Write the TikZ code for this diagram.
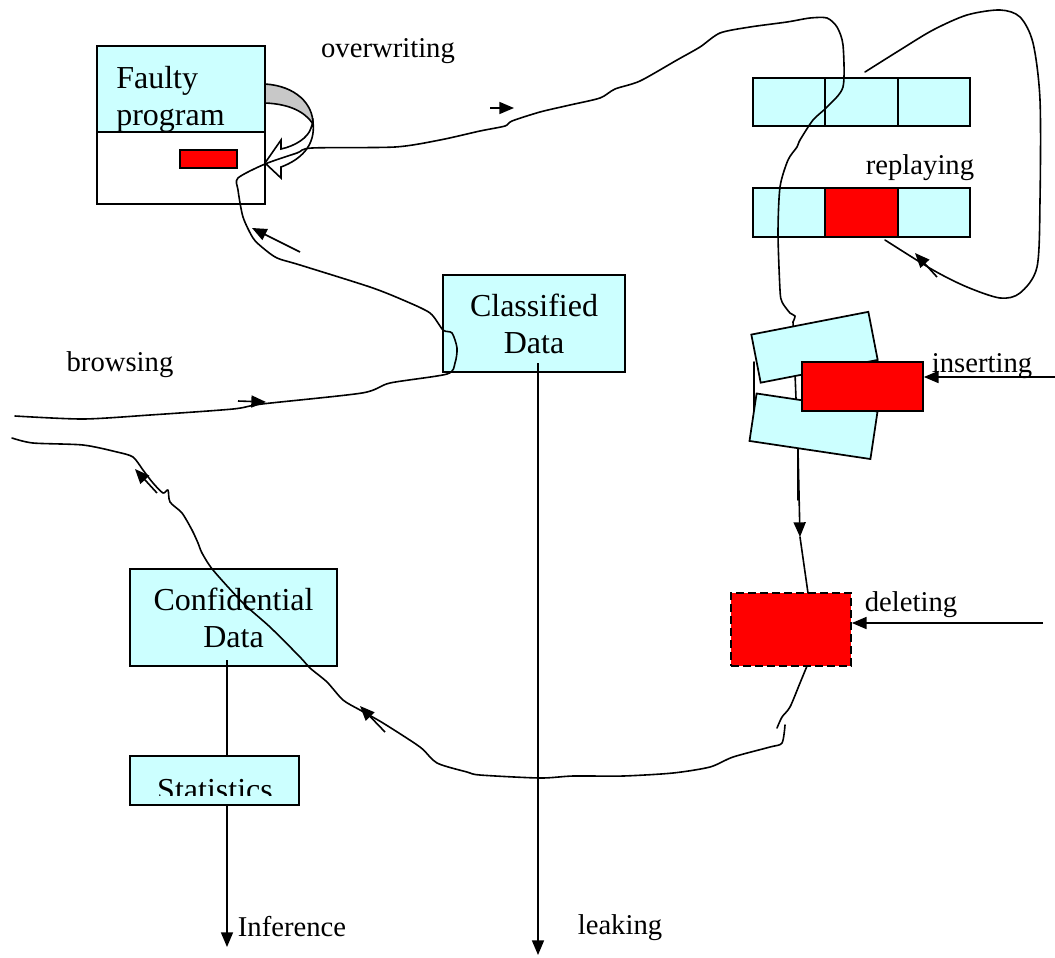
\documentclass[tikz,border=0pt]{standalone}
\usepackage{fontspec}
\setmainfont{Liberation Serif}
\usetikzlibrary{arrows.meta}
\usetikzlibrary{positioning}

\definecolor{lightcyan}{HTML}{CCFFFF}
\definecolor{pureRed}{HTML}{FF0000}
\definecolor{bandgray}{HTML}{C8C8C8}

\tikzset{
	box/.style={draw, fill=lightcyan, inner sep=0pt, line width=1.3pt},
	redbox/.style={draw, fill=pureRed, inner sep=0pt, line width=1.3pt},
	lbl/.style={font=\fontsize{21.5}{24}\selectfont, inner sep=0pt},
	big/.style={font=\fontsize{24}{27.6}\selectfont, align=center},
	wavy/.style={line width=1.2pt, line join=round, line cap=round},
	arr/.style={line width=1.2pt, -{Triangle[length=11pt,width=9pt]}}
}

\begin{document}
\begin{tikzpicture}[x=0.75pt, y=-0.75pt]
	\useasboundingbox (0,0) rectangle (1055,957);

	% faulty program
	\node[box, minimum width=126pt, minimum height=64.5pt] (fptop) at (181,89) {};
	\node[draw, fill=white, line width=1.3pt, minimum width=126pt, minimum height=54pt] (fpbot) at (181,168) {};
	\node[redbox, minimum width=42.75pt, minimum height=13.5pt] (fpmark) at (208.5,159) {};
	\node[big, align=left, anchor=west, inner sep=0pt] (fplabel) at (116,99) {Faulty\\program};

	% curved arrow back into the program
	\filldraw[fill=bandgray, line width=1.2pt] (265,84) .. controls (296,86) and (313,104) .. (313,124)
		.. controls (305,112) and (290,104) .. (265,103) -- cycle;
	\filldraw[fill=white, line width=1.2pt] (313,122) .. controls (316,146) and (300,160) .. (281,167)
		-- (281,178) -- (265,163) -- (281,140) -- (281,149)
		.. controls (295,146) and (308,138) .. (311,128) -- cycle;

	% data boxes
	\node[box, big, minimum width=136.5pt, minimum height=72.75pt] (classified) at (534,323.5) {Classified\\Data};
	\node[box, big, minimum width=155.25pt, minimum height=72.75pt] (confidential) at (233.5,617.5) {Confidential\\Data};
	\node[box, minimum width=126.75pt, minimum height=36.75pt] (stats) at (214.5,780.5) {};
	\begin{scope}
		\clip (130,756) rectangle (299,795);
		\node[big, inner sep=0pt] (statlabel) at (215,790) {Statistics};
	\end{scope}

	% replay buffers
	\foreach \i/\x in {1/789.2, 2/861.5, 3/933.8}
		\node[box, minimum width=54.25pt, minimum height=36pt] (rA\i) at (\x,102) {};
	\foreach \i/\x in {1/789.2, 2/861.5, 3/933.8}
		\node[box, minimum width=54.25pt, minimum height=36.75pt] (rB\i) at (\x,212.5) {};
	\node[redbox, minimum width=54.25pt, minimum height=36.75pt] (rBred) at (861.5,212.5) {};

	% labels
	\node[lbl] (overwriting) at (388,51) {overwriting};
	\node[lbl] (replaying) at (920,168) {replaying};
	\node[lbl] (inserting) at (982,366) {inserting};
	\node[lbl] (deleting) at (911,605) {deleting};
	\node[lbl] (browsing) at (120,365) {browsing};
	\node[lbl] (inference) at (292,927) {Inference};
	\node[lbl] (leaking) at (620,928) {leaking};

	% main path: browsing - classified - faulty program - overwriting - replay
	\draw[wavy] plot[smooth, tension=0.45] coordinates {(15,416) (83,419) (150,415) (233,409) (262,404)
		(362,393) (390,383) (447,374) (455,363) (457,348) (452,333) (443,330) (430,313) (403,300)
		(370,287) (300,265) (277,258) (263,248) (253,238) (243,217) (238,190) (238,178) (265,164)
		(297,153) (312,148) (395,147) (440,140) (480,131) (505,126) (512,121) (540,112) (570,105)
		(600,98) (615,89) (640,81) (677,60) (700,47) (720,33) (750,27) (787,22) (810,18) (827,18)
		(837,27) (843,45) (843,87) (827,107) (813,120) (800,140) (797,147) (788,160) (780,187)
		(778,233) (780,290) (782,302) (790,313) (795,316) (793,322)};
	\draw[arr] (238,401) -- (266,402);
	\draw[arr] (490,108) -- (514,108);
	\draw[arr] (300,252) -- (252,228);

	% replay loop
	\draw[wavy] plot[smooth, tension=0.5] coordinates {(865,72) (900,50) (933,30) (967,15) (1000,10)
		(1020,17) (1033,43) (1040,100) (1040,200) (1037,267) (1020,293) (1000,298) (967,287)
		(933,270) (885,240)};
	\draw[arr] (937,277) -- (915,253);

	% inserting
	\coordinate (thru) at (793,322);
	\coordinate (thruend) at (800,537);
	\draw[wavy] (thru) -- (798,450) -- (798,500);
	\draw[wavy] (754,362) -- (754,410);
	\node[box, rotate=11, minimum width=89.4pt, minimum height=36.75pt] (ins1) at (814.5,347.25) {};
	\node[box, rotate=-8.5, minimum width=91.7pt, minimum height=36pt] (ins2) at (813.5,426.25) {};
	\node[redbox, minimum width=90.75pt, minimum height=36.75pt] (insred) at (862.5,386.5) {};
	\coordinate (insfrom) at (1055,377);
	\draw[arr] (insfrom) -- (insred.east |- insfrom);
	\draw[arr] (798,450) -- (thruend);

	% deleting
	\node[redbox, dash pattern=on 6pt off 3pt, minimum width=90pt, minimum height=54.75pt] (del) at (791,629.5) {};
	\draw[wavy] (thruend) -- (808,593);
	\coordinate (delfrom) at (1043,623);
	\draw[arr] (delfrom) -- (del.east |- delfrom);

	% return path to the left
	\draw[wavy] plot[smooth, tension=0.45] coordinates {(807,666) (800,683) (790,707) (782,717) (777,728)};
	\draw[wavy] plot[smooth, tension=0.45] coordinates {(785,725) (782,743) (770,747) (733,757)
		(710,767) (673,773) (623,776) (573,776) (540,778) (480,775) (467,772) (437,763) (420,747)
		(383,723) (360,710) (343,700) (327,682) (310,668) (300,657) (270,627) (243,603) (213,570)
		(202,553) (198,543) (192,530) (182,513) (170,502) (168,490) (163,493) (153,483) (143,470)
		(133,457) (117,452) (83,445) (33,443) (12,438)};
	\draw[arr] (385,732) -- (360,706);
	\draw[arr] (157,493) -- (135,469);

	% leaking and inference
	\coordinate (leakfrom) at (538,363);
	\coordinate (leakto) at (538,955);
	\draw[arr] (leakfrom) -- (leakto);
	\coordinate (conffrom) at (227,660);
	\draw[line width=1.2pt] (conffrom) -- (conffrom |- stats.north);
	\coordinate (infto) at (227,947);
	\draw[arr] (infto |- stats.south) -- (infto);
\end{tikzpicture}
\end{document}
